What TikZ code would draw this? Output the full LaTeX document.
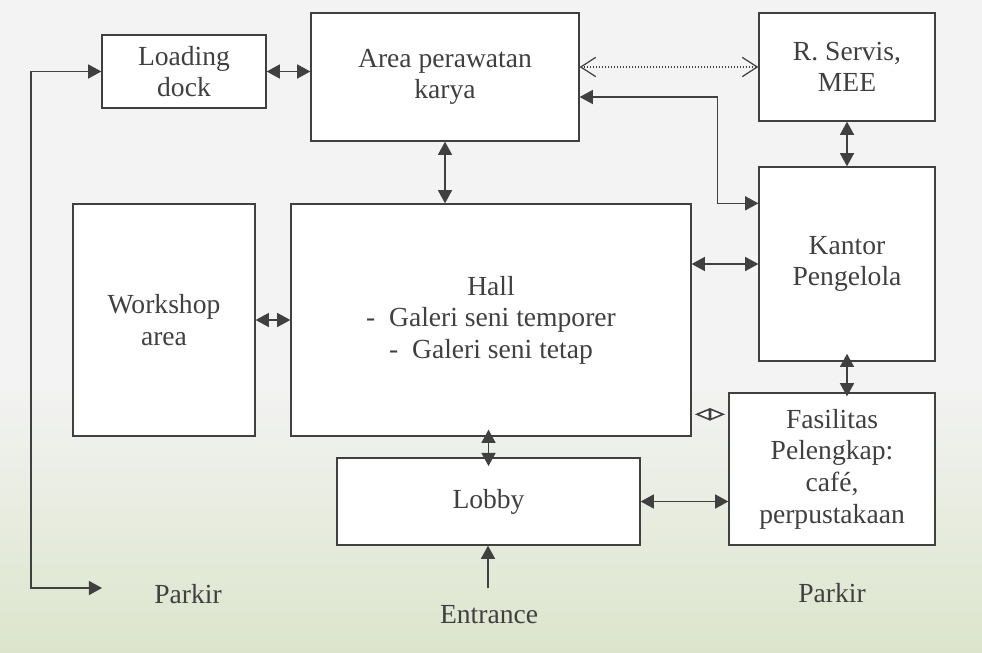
\documentclass[tikz,border=0pt]{standalone}
\usepackage{fontspec}
\setmainfont{Liberation Serif}
\usetikzlibrary{arrows.meta, positioning, calc}
\definecolor{garis}{HTML}{404040}
\definecolor{latar}{HTML}{F3F3F3}
\definecolor{hijau}{HTML}{DCE5CC}

\begin{document}
\begin{tikzpicture}[
        x=0.02cm, y=-0.02cm, color=garis, line width=0.8pt,
        >={Triangle[length=7.5pt,width=8pt]},
        font=\fontsize{15.7}{18}\selectfont,
        ruang/.style={draw, fill=white, align=center, inner sep=2pt},
        samar/.style={dash pattern=on 0.6pt off 1.1pt, line width=0.6pt,
          {Straight Barb[length=8.5pt,width=11pt,line width=0.7pt]}-{Straight Barb[length=8.5pt,width=11pt,line width=0.7pt]}},
        wajik/.style={dash pattern=on 0.6pt off 1.1pt, line width=0.6pt, shorten <=1.8pt, shorten >=1.8pt,
          {Triangle[open,length=8.8pt,width=7pt,line width=0.9pt,fill=white]}-{Triangle[open,length=8.8pt,width=7pt,line width=0.9pt,fill=white]}},
        ]
        \fill[latar] (0,0) rectangle (982,652);
        \shade[top color=latar, bottom color=hijau] (0,380) rectangle (982,652);
        \useasboundingbox (0,0) rectangle (982,652);

        \node[ruang, minimum width=3.28cm, minimum height=1.46cm] (muat)    at (184,71.5)  {Loading\\dock};
        \node[ruang, minimum width=5.36cm, minimum height=2.56cm] (rawat)   at (445,77)    {Area perawatan\\karya};
        \node[ruang, minimum width=3.52cm, minimum height=2.16cm] (servis)  at (847,67)    {R. Servis,\\MEE};
        \node[ruang, minimum width=3.52cm, minimum height=3.88cm] (kantor)  at (847,264)   {Kantor\\Pengelola};
        \node[ruang, minimum width=8cm,    minimum height=4.64cm] (hall)    at (491,320)   {Hall\\-\ \ Galeri seni temporer\\-\ \ Galeri seni tetap};
        \node[ruang, minimum width=3.64cm, minimum height=4.64cm] (bengkel) at (164,320)   {Workshop\\area};
        \node[ruang, minimum width=6.06cm, minimum height=1.74cm] (lobi)    at (488.5,501.5) {Lobby};
        \node[ruang, minimum width=4.12cm, minimum height=3.04cm] (fasil)   at (832,469)   {Fasilitas\\Pelengkap:\\café,\\perpustakaan};

        \node (parkir1)  at (188,594) {Parkir};
        \node (parkir2)  at (832,593) {Parkir};
        \node (entrance) at (489,615) {Entrance};
        \coordinate (parkirkiri) at (102,588);
        \coordinate (pintu) at (488,588);
        \coordinate (titik) at ($(fasil.north west)+(0,22)$);

        \draw[<->] (parkirkiri) -- ++(-71,0) |- (muat.west);
        \draw[<->] (muat.east) -- (muat.east -| rawat.west);
        \draw[samar] (rawat.east |- servis.west) -- (servis.west);
        \draw[<->] ($(rawat.east)+(0,20)$) -| ($(kantor.west |- hall.north)+(-41,0)$) -- (kantor.west |- hall.north);
        \draw[<->] (rawat.south) -- (rawat.south |- hall.north);
        \draw[<->] (servis.south) -- (kantor.north);
        \draw[<->] (kantor.west -| hall.east) -- (kantor.west);
        \draw[<->] (bengkel.east) -- (hall.west);
        \draw[<->, shorten <=-4.5pt, shorten >=-2.3pt] (kantor.south) -- (kantor.south |- fasil.north);
        \draw[wajik] (titik -| hall.east) -- (titik);
        \draw[<->, shorten <=-5pt, shorten >=-4pt] (lobi.north) -- (lobi.north |- hall.south);
        \draw[<->] (lobi.east) -- (lobi.east -| fasil.west);
        \draw[->] (pintu) -- (pintu |- lobi.south);
      \end{tikzpicture}
\end{document}
